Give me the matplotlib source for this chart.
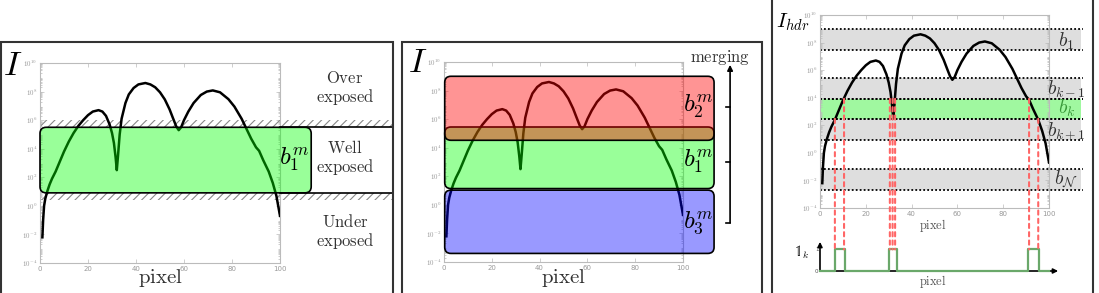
import numpy as np
import matplotlib.pyplot as plt
from matplotlib.patches import FancyBboxPatch, Rectangle, ConnectionPatch

plt.rcParams['mathtext.fontset'] = 'cm'
plt.rcParams['hatch.linewidth'] = 0.8

# log10 of the intensity along one pixel row
pixel = [1.0, 1.3, 1.7, 2.2, 3, 4, 5, 6.5, 8, 10, 12, 14, 16, 18, 20, 22, 24.4,
         26, 27.5, 29, 30, 30.8, 31.5, 32.0, 32.5, 33.2, 34, 35.6, 37, 39, 41,
         43.9, 46, 48, 50, 52, 54, 55.5, 56.8, 57.8, 58.8, 60, 61.8, 64, 67,
         69.5, 72, 75, 78.5, 81, 84, 86, 88, 90, 91.3, 93, 95.3, 97, 98.5, 100]
log_i = [-2.2, -1.0, 0.0, 0.5, 1.0, 1.5, 1.9, 2.4, 3.0, 3.8, 4.5, 5.1, 5.6, 6.0,
         6.35, 6.6, 6.7, 6.6, 6.3, 5.7, 5.1, 4.4, 3.4, 2.5, 3.5, 5.0, 6.1, 7.2,
         7.8, 8.25, 8.5, 8.6, 8.5, 8.3, 7.95, 7.45, 6.75, 6.1, 5.55, 5.3, 5.5,
         6.0, 6.6, 7.2, 7.76, 8.0, 8.08, 7.95, 7.47, 6.95, 6.1, 5.4, 4.7, 4.1,
         3.85, 3.2, 2.4, 1.6, 0.7, -0.7]

y_ticks = [-4, -2, 0, 2, 4, 6, 8, 10]
x_ticks = [0, 20, 40, 60, 80, 100]

# panel 1: single exposure
well_lo, well_hi = 0.91, 5.5
over_hatch = (5.5, 6.0)
under_hatch = (0.4, 0.91)
zone_labels = ['Over', 'Well', 'Under']
zone_y = [8.25, 3.35, -1.83]

# panel 2: merged exposures
m_labels = [r'$b_2^m$', r'$b_1^m$', r'$b_3^m$']
m_lo = [4.52, 1.14, -3.4]
m_hi = [9.0, 5.45, 1.03]
m_colors = [(1, 0, 0, 0.42), (0, 1, 0, 0.4), (0, 0, 1, 0.4)]
m_zorder = [5, 4, 4]
m_label_y = [6.87, 3.03, -1.26]

# panel 3: bins of the hdr image
band_names = [r'$b_1$', r'$b_{k-1}$', r'$b_k$', r'$b_{k+1}$', r'$b_\mathcal{N}$']
band_lo = [7.47, 3.92, 2.47, 0.95, -2.67]
band_hi = [8.97, 5.40, 3.92, 2.47, -1.17]
band_colors = ['#dedede', '#dedede', '#a0f8a0', '#dedede', '#dedede']
band_text_colors = ['#333333', '#333333', '#3a9a3a', '#333333', '#333333']
band_label_y = [8.07, 4.6, 3.24, 1.55, -1.96]
cross_x = [6.5, 10.5, 30.5, 31.7, 32.8, 91.3, 95.3]
cross_y = [2.47, 3.92, 3.92, 3.92, 3.92, 3.92, 2.47]
pulse_start = [6.5, 30.1, 90.8]
pulse_end = [10.9, 33.6, 95.6]

W, H = 1099, 293


def px_axes(fig, left, top, right, bottom):
    return fig.add_axes([left / W, 1 - bottom / H, (right - left) / W, (bottom - top) / H])


def setup_axes(ax):
    ax.plot(pixel, log_i, color='black', lw=1.8, zorder=3)
    ax.set_xlim(0, 100)
    ax.set_ylim(-4, 10)
    ax.set_yticks(y_ticks)
    ax.set_yticklabels([r'$10^{%d}$' % t for t in y_ticks])
    minor = [k + np.log10(m) for k in range(-4, 10) for m in range(2, 10)]
    ax.set_yticks(minor, minor=True)
    ax.set_xticks(x_ticks)
    ax.tick_params(which='both', direction='in', top=True, right=True,
                   labelsize=5, labelcolor='#999999', color='#bbbbbb', length=3, width=0.5, pad=2)
    ax.tick_params(which='minor', length=1.5)
    for s in ax.spines.values():
        s.set_color('#bbbbbb')
        s.set_linewidth(0.8)


def rbox(ax, x0, x1, lo, hi, face, asp, z=4):
    p = FancyBboxPatch((x0, lo), x1 - x0, hi - lo, boxstyle='round,pad=0,rounding_size=2.6',
                       mutation_aspect=asp, facecolor=face, edgecolor='black', lw=1.2,
                       clip_on=False, zorder=z)
    ax.add_patch(p)


fig = plt.figure(figsize=(W / 100, H / 100), dpi=100)

# panel borders
for x0, x1, top in [(1, 393, 42), (402, 762, 42), (772, 1093, -10)]:
    fig.add_artist(Rectangle((x0 / W, -0.1), (x1 - x0) / W, 1.1 - top / H, transform=fig.transFigure,
                             fill=False, ec='#333333', lw=1.5))

# ---- panel 1
ax1 = px_axes(fig, 40, 63, 280, 263)
setup_axes(ax1)
asp1 = (240 / 100) / (200 / 14)
rbox(ax1, 0, 113, well_lo, well_hi, (0, 1, 0, 0.4), asp1)
for lo, hi in [over_hatch, under_hatch]:
    ax1.add_patch(Rectangle((0, lo), 147, hi - lo, hatch='////', fill=False, ec='#888888', lw=0,
                            clip_on=False, zorder=2))
for yv in [well_lo, well_hi]:
    ax1.plot([100, 147], [yv, yv], color='black', lw=1.2, clip_on=False, zorder=4)
ax1.text(106, 3.2, r'$b_1^m$', fontsize=18, ha='center', va='center', zorder=6)
for lab, yv in zip(zone_labels, zone_y):
    ax1.text(127, yv, r'$\mathrm{%s}$' % lab + '\n' + r'$\mathrm{exposed}$', fontsize=12,
             ha='center', va='center', color='#333333', linespacing=1.0)
fig.text(13 / W, 1 - 65 / H, r'$I$', fontsize=25, ha='center', va='center')
fig.text(160 / W, 1 - 278 / H, r'$\mathrm{pixel}$', fontsize=15, ha='center', va='center', color='#333333')

# ---- panel 2
ax2 = px_axes(fig, 444, 62, 683, 262)
setup_axes(ax2)
asp2 = (239 / 100) / (200 / 14)
for lab, lo, hi, c, z, ly in zip(m_labels, m_lo, m_hi, m_colors, m_zorder, m_label_y):
    rbox(ax2, 0.3, 113, lo, hi, c, asp2, z)
    ax2.text(106.5, ly, lab, fontsize=18, ha='center', va='center', zorder=6)
    ax2.plot([118, 119.7], [ly, ly], color='black', lw=1.2, clip_on=False)
ax2.annotate('', xy=(119.7, 9.8), xytext=(119.7, min(m_label_y)), annotation_clip=False,
             arrowprops=dict(arrowstyle='-|>', color='black', lw=1.2, shrinkA=0, shrinkB=0,
                             mutation_scale=8))
ax2.text(115.3, 10.3, r'$\mathrm{merging}$', fontsize=12, ha='center', va='center', color='#333333')
fig.text(418 / W, 1 - 62 / H, r'$I$', fontsize=25, ha='center', va='center')
fig.text(563 / W, 1 - 278 / H, r'$\mathrm{pixel}$', fontsize=15, ha='center', va='center', color='#333333')

# ---- panel 3
ax3 = px_axes(fig, 820, 15, 1049, 208)
setup_axes(ax3)
for name, lo, hi, c, tc, ly in zip(band_names, band_lo, band_hi, band_colors, band_text_colors, band_label_y):
    ax3.add_patch(Rectangle((0, lo), 114, hi - lo, facecolor=c, ec='none', clip_on=False, zorder=1))
    for yv in [lo, hi]:
        ax3.plot([0, 115], [yv, yv], color='black', lw=1.3, ls=(0, (1, 1.2)), clip_on=False, zorder=2)
    ax3.text(107.5, ly, name, fontsize=14, ha='center', va='center', color=tc, zorder=5)
fig.text(793 / W, 1 - 22 / H, r'$I_{hdr}$', fontsize=15, ha='center', va='center')
fig.text(933 / W, 1 - 225 / H, r'$\mathrm{pixel}$', fontsize=9, ha='center', va='center', color='#555555')

# indicator of bin k
ax4 = px_axes(fig, 820, 244, 1049, 271)
ax4.set_xlim(0, 100)
ax4.set_ylim(0, 1.25)
for s in ax4.spines.values():
    s.set_visible(False)
ax4.set_xticks([])
ax4.set_yticks([0, 1])
ax4.tick_params(labelsize=4, length=0, pad=1, labelcolor='#555555')
step_x = [0]
step_y = [0]
for a, b in zip(pulse_start, pulse_end):
    step_x += [a, a, b, b]
    step_y += [0, 1, 1, 0]
step_x.append(100)
step_y.append(0)
ax4.annotate('', xy=(104, 0), xytext=(0, 0), annotation_clip=False,
             arrowprops=dict(arrowstyle='-|>', color='black', lw=1.2, shrinkA=0, shrinkB=0, mutation_scale=7))
ax4.annotate('', xy=(0, 1.35), xytext=(0, 0), annotation_clip=False,
             arrowprops=dict(arrowstyle='-|>', color='black', lw=1.2, shrinkA=0, shrinkB=0, mutation_scale=7))
ax4.plot(step_x, step_y, color='#6aa86a', lw=1.6, clip_on=False, zorder=3)
ax4.text(-7.9, 0.87, r'$\mathbb{1}_k$', fontsize=10, ha='center', va='center')
fig.text(933 / W, 1 - 282 / H, r'$\mathrm{pixel}$', fontsize=9, ha='center', va='center', color='#555555')

for xv, yv in zip(cross_x, cross_y):
    con = ConnectionPatch(xyA=(xv, yv), coordsA=ax3.transData, xyB=(xv, 1), coordsB=ax4.transData,
                          color='#ff6666', lw=1.5, ls=(0, (2, 2)), zorder=6)
    fig.add_artist(con)

fig.savefig('out.png', dpi=100)
